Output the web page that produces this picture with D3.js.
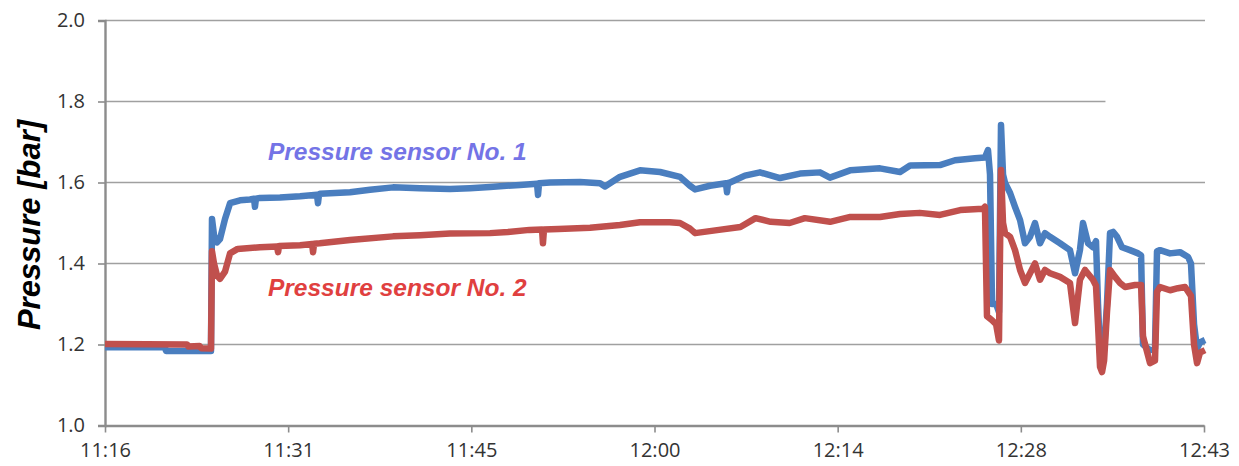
<!DOCTYPE html>
<html>
<head>
<meta charset="utf-8">
<script src="https://cdn.jsdelivr.net/npm/d3@7"></script>
<style>
  html, body { margin: 0; padding: 0; background: #fff; }
  svg { display: block; }
</style>
</head>
<body>
<svg id="chart" width="1239" height="466"></svg>
<script>
// Pressure log, minutes elapsed since 11:16
const timeTicks = [0, 14.5, 29, 43.5, 58, 72.5, 87];
const timeLabels = ["11:16", "11:31", "11:45", "12:00", "12:14", "12:28", "12:43"];
const pressureTicks = [1.0, 1.2, 1.4, 1.6, 1.8, 2.0];

// Sensor No. 1: [minute, bar]
const sensor1 = [
  [0.00, 1.193], [4.75, 1.193], [4.83, 1.184], [8.39, 1.184], [8.47, 1.510],
  [8.63, 1.470], [8.87, 1.452], [9.10, 1.460], [9.50, 1.510], [9.90, 1.549],
  [10.69, 1.556], [11.48, 1.558], [11.80, 1.560], [11.87, 1.540], [11.95, 1.560],
  [12.27, 1.562], [13.85, 1.563], [15.44, 1.566], [16.78, 1.570], [16.86, 1.549],
  [16.94, 1.570], [17.02, 1.572], [19.40, 1.576], [20.98, 1.582], [22.80, 1.588],
  [24.94, 1.586], [27.31, 1.584], [28.89, 1.586], [30.48, 1.589], [32.85, 1.594],
  [34.20, 1.597], [34.28, 1.569], [34.36, 1.598], [35.23, 1.600], [37.60, 1.601],
  [39.19, 1.598], [39.58, 1.590], [40.77, 1.614], [42.35, 1.630], [43.94, 1.626],
  [45.52, 1.614], [46.31, 1.592], [46.71, 1.583], [47.89, 1.592], [49.16, 1.598],
  [49.24, 1.576], [49.32, 1.599], [49.48, 1.600], [50.66, 1.617], [51.85, 1.625],
  [53.44, 1.611], [55.02, 1.622], [56.60, 1.625], [57.39, 1.612], [58.98, 1.630],
  [61.35, 1.635], [62.94, 1.626], [63.73, 1.642], [66.10, 1.643], [67.29, 1.655],
  [68.87, 1.660], [69.66, 1.662], [69.90, 1.680], [70.06, 1.620], [70.22, 1.300],
  [70.54, 1.300], [70.77, 1.280], [70.93, 1.742], [71.09, 1.620], [71.25, 1.599],
  [71.65, 1.574], [72.04, 1.540], [72.44, 1.507], [72.83, 1.450], [73.23, 1.466],
  [73.62, 1.500], [74.02, 1.450], [74.41, 1.475], [74.81, 1.466], [75.60, 1.450],
  [76.39, 1.433], [76.79, 1.376], [77.18, 1.433], [77.42, 1.500], [77.82, 1.450],
  [78.21, 1.440], [78.45, 1.455], [78.61, 1.300], [78.77, 1.180], [79.09, 1.186],
  [79.32, 1.300], [79.56, 1.475], [79.80, 1.478], [80.12, 1.466], [80.51, 1.440],
  [81.14, 1.433], [81.78, 1.425], [82.02, 1.420], [82.17, 1.200], [82.73, 1.186],
  [83.12, 1.190], [83.28, 1.430], [83.52, 1.433], [84.31, 1.425], [85.10, 1.428],
  [85.74, 1.416], [85.97, 1.400], [86.21, 1.250], [86.45, 1.190], [86.68, 1.205],
  [87.08, 1.211]
];

// Sensor No. 2: [minute, bar]
const sensor2 = [
  [0.00, 1.201], [6.50, 1.200], [6.60, 1.195], [7.50, 1.196], [7.60, 1.191],
  [8.39, 1.190], [8.47, 1.430], [8.63, 1.400], [8.87, 1.370], [9.10, 1.362],
  [9.50, 1.380], [9.90, 1.425], [10.50, 1.436], [12.27, 1.440], [13.62, 1.442],
  [13.70, 1.428], [13.78, 1.443], [15.44, 1.445], [16.40, 1.448], [16.47, 1.428],
  [16.55, 1.449], [17.00, 1.450], [19.40, 1.458], [22.80, 1.467], [24.94, 1.470],
  [27.31, 1.474], [30.48, 1.475], [31.90, 1.478], [33.60, 1.483], [34.60, 1.484],
  [34.67, 1.450], [34.75, 1.484], [35.90, 1.485], [38.40, 1.488], [40.77, 1.495],
  [42.35, 1.502], [44.70, 1.502], [45.52, 1.500], [46.31, 1.486], [46.71, 1.475],
  [48.60, 1.483], [50.30, 1.490], [51.50, 1.512], [52.70, 1.503], [54.20, 1.500],
  [55.40, 1.512], [57.40, 1.503], [59.00, 1.515], [61.35, 1.515], [62.94, 1.522],
  [64.50, 1.525], [66.10, 1.520], [67.70, 1.532], [69.50, 1.535], [69.66, 1.540],
  [69.82, 1.270], [70.22, 1.260], [70.54, 1.250], [70.77, 1.210], [70.93, 1.631],
  [71.09, 1.500], [71.25, 1.475], [71.65, 1.466], [72.04, 1.433], [72.44, 1.384],
  [72.83, 1.352], [73.23, 1.376], [73.62, 1.400], [74.02, 1.360], [74.41, 1.384],
  [74.81, 1.376], [75.60, 1.367], [76.39, 1.352], [76.79, 1.253], [77.18, 1.360],
  [77.58, 1.384], [78.21, 1.360], [78.45, 1.345], [78.61, 1.250], [78.77, 1.145],
  [78.93, 1.132], [79.09, 1.160], [79.32, 1.280], [79.56, 1.384], [79.96, 1.367],
  [80.35, 1.352], [80.75, 1.342], [81.54, 1.347], [82.02, 1.347], [82.17, 1.220],
  [82.73, 1.154], [83.12, 1.160], [83.28, 1.330], [83.52, 1.342], [84.31, 1.334],
  [84.94, 1.339], [85.50, 1.342], [85.97, 1.320], [86.21, 1.200], [86.45, 1.154],
  [86.68, 1.180], [87.08, 1.186]
];

const seriesNames = ["Pressure sensor No. 1", "Pressure sensor No. 2"];
const seriesColors = ["#4a7ebf", "#c0504d"];
const labelColors = ["#7474e6", "#e0403f"];
// label anchor points [minute, bar]
const labelAnchors = [[12.9, 1.655], [12.9, 1.320]];

const svg = d3.select("#chart");
const plot = { left: 105, right: 1204, top: 20.5, bottom: 425.5 };

const x = d3.scaleLinear().domain([0, 87]).range([plot.left, plot.right]);
const y = d3.scaleLinear().domain([1.0, 2.0]).range([plot.bottom, plot.top]);

const tickFont = "'Open Sans', 'DejaVu Sans', sans-serif";

// horizontal grid
svg.append("g")
  .selectAll("line")
  .data(pressureTicks.filter(v => v > 1.0))
  .join("line")
  .attr("x1", plot.left).attr("x2", x(87) + 1)
  .attr("y1", d => y(d)).attr("y2", d => y(d))
  .attr("stroke", "#a0a0a0").attr("stroke-width", 1.6);

// blank text frame sitting over the right end of the 1.8 line
svg.append("rect")
  .attr("x", x(79.2)).attr("y", y(1.8) - 6)
  .attr("width", x(87) - x(79.2) + 20).attr("height", 12)
  .attr("fill", "#fff");

// y axis
const yAxis = svg.append("g")
  .attr("transform", `translate(${plot.left},0)`)
  .call(d3.axisLeft(y).tickValues(pressureTicks).tickFormat(d3.format(".1f")).tickSize(7).tickPadding(13));
yAxis.select(".domain").attr("stroke", "#8c8c8c").attr("stroke-width", 2.4);
yAxis.selectAll(".tick line").attr("stroke", "#8c8c8c").attr("stroke-width", 1.6);
yAxis.selectAll("text").attr("font-family", tickFont).attr("font-size", 20).attr("fill", "#333");

// x axis
const xAxis = svg.append("g")
  .attr("transform", `translate(0,${plot.bottom})`)
  .call(d3.axisBottom(x).tickValues(timeTicks).tickFormat((d, i) => timeLabels[i]).tickSize(7).tickSizeOuter(0).tickPadding(10));
xAxis.select(".domain").attr("stroke", "#8c8c8c").attr("stroke-width", 2.4);
xAxis.selectAll(".tick line").attr("stroke", "#8c8c8c").attr("stroke-width", 1.6);
xAxis.selectAll("text").attr("font-family", tickFont).attr("font-size", 20).attr("fill", "#333");

// y axis title
svg.append("text")
  .attr("transform", `translate(40,${(plot.top + plot.bottom) / 2 + 2}) rotate(-90)`)
  .attr("text-anchor", "middle")
  .attr("font-family", "'Liberation Sans', Arial, sans-serif")
  .attr("font-weight", "bold").attr("font-style", "italic")
  .attr("font-size", 31).attr("fill", "#000")
  .text("Pressure [bar]");

// pressure traces
const line = d3.line().x(d => x(d[0])).y(d => y(d[1]));
[sensor1, sensor2].forEach((s, i) => {
  svg.append("path")
    .datum(s)
    .attr("d", line)
    .attr("fill", "none")
    .attr("stroke", seriesColors[i])
    .attr("stroke-width", 6.5)
    .attr("stroke-linejoin", "round");
});

// series labels
svg.append("g")
  .selectAll("text")
  .data(seriesNames)
  .join("text")
  .attr("x", (d, i) => x(labelAnchors[i][0]))
  .attr("y", (d, i) => y(labelAnchors[i][1]))
  .attr("font-family", "'Liberation Sans', Arial, sans-serif")
  .attr("font-weight", "bold").attr("font-style", "italic")
  .attr("font-size", 24.5)
  .attr("fill", (d, i) => labelColors[i])
  .text(d => d);
</script>
</body>
</html>
